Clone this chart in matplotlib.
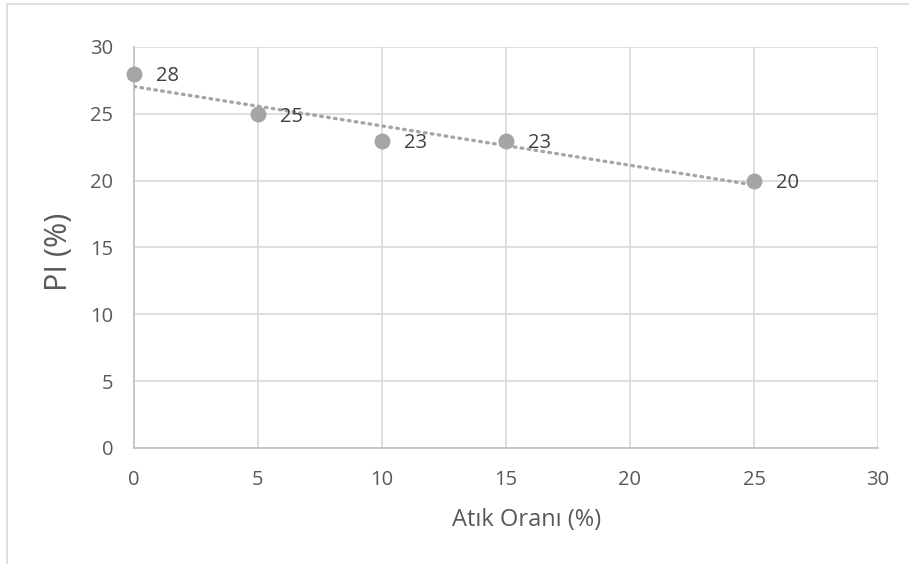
import numpy as np
import matplotlib.pyplot as plt
from matplotlib.patches import Rectangle

# Data
atik_orani = [0, 5, 10, 15, 25]
pi_values = [28, 25, 23, 23, 20]
x_ticks = [0, 5, 10, 15, 20, 25, 30]
y_ticks = [0, 5, 10, 15, 20, 25, 30]

plt.rcParams["font.family"] = ["Open Sans", "DejaVu Sans"]

fig = plt.figure(figsize=(9.09, 5.64), dpi=100)
ax = fig.add_axes([0.1474, 0.2057, 0.8185, 0.711])

# chart border (cropped on right/bottom)
fig.patches.append(Rectangle((7 / 909, -0.1), 1.2, 1 - 4 / 564 + 0.1,
                             transform=fig.transFigure, fill=False,
                             edgecolor="#d9d9d9", linewidth=1.2))

# linear trendline
coef = np.polyfit(atik_orani, pi_values, 1)
tx = np.array([min(atik_orani), max(atik_orani)])
ax.plot(tx, np.polyval(coef, tx), color="#a5a5a5", linewidth=2.4,
        linestyle=(0, (0.5, 1.6)), dash_capstyle="round", zorder=3)

ax.plot(atik_orani, pi_values, "o", color="#a5a5a5", markersize=11.5,
        markeredgewidth=0, zorder=4, clip_on=False)

for x, y in zip(atik_orani, pi_values):
    ax.annotate(str(y), (x, y), xytext=(16, -2), textcoords="offset points",
                ha="left", va="center", fontsize=14.5, color="#404040", zorder=5)

ax.set_xlim(0, 30)
ax.set_ylim(0, 30)
ax.set_xticks(x_ticks)
ax.set_yticks(y_ticks)
ax.grid(True, color="#d9d9d9", linewidth=1.2)
ax.set_axisbelow(True)
for side in ["top", "right"]:
    ax.spines[side].set_visible(False)
for side in ["left", "bottom"]:
    ax.spines[side].set_color("#bfbfbf")
    ax.spines[side].set_linewidth(1.2)
ax.tick_params(axis="both", length=0, labelsize=14.5, labelcolor="#595959")
ax.tick_params(axis="x", pad=16)
ax.tick_params(axis="y", pad=15)

ax.set_xlabel("Atık Oranı (%)", fontsize=17, color="#595959")
ax.set_ylabel("PI (%)", fontsize=22, color="#595959")
ax.xaxis.set_label_coords(0.527, -0.150)
ax.yaxis.set_label_coords(-0.081, 0.489)

fig.savefig("out.png", dpi=100)
